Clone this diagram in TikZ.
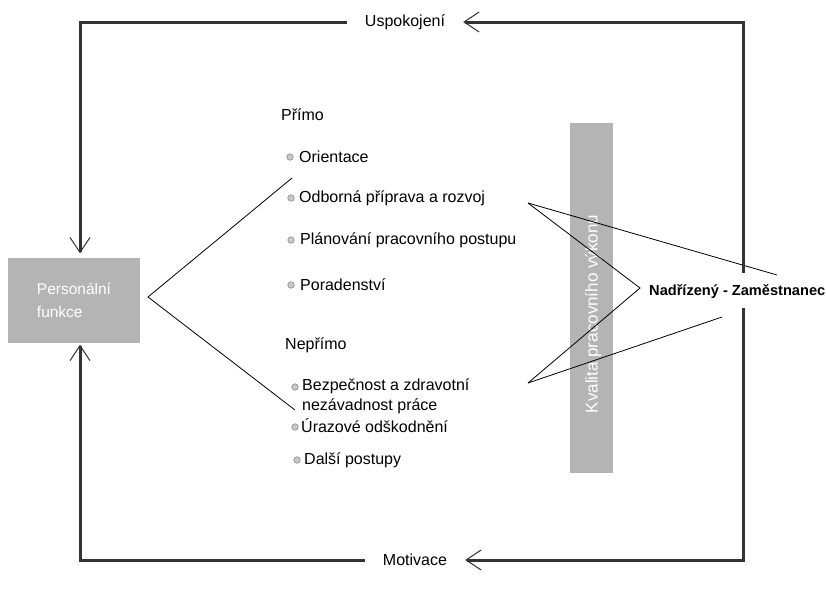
\documentclass[tikz,border=0pt]{standalone}
\usepackage{fontspec}
\setmainfont{Liberation Sans}
\usetikzlibrary{arrows.meta,calc}
\definecolor{loopgray}{HTML}{333333}
\definecolor{panelgray}{HTML}{B4B4B4}
\definecolor{dotfill}{HTML}{C8C8C8}
\definecolor{dotring}{HTML}{8C8C8C}
\tikzset{
  openbarb/.tip={Straight Barb[length=15pt,width=20pt,line width=1pt]},
  loopline/.style={line width=3pt, draw=loopgray, line join=miter},
  thinline/.style={line width=0.8pt, draw=black},
  txt/.style={font=\fontsize{16}{20}\selectfont, inner sep=0pt, anchor=west},
  looplabel/.style={font=\fontsize{16}{19}\selectfont, inner ysep=0pt, inner xsep=18pt},
  panel/.style={fill=panelgray, text=white, inner sep=0pt, align=left,
                font=\fontsize{15.5}{23}\selectfont},
  dot/.style={circle, fill=dotfill, draw=dotring, line width=0.6pt,
              inner sep=0pt, minimum size=6.5pt},
}
\begin{document}
\begin{tikzpicture}[x=1pt,y=-1pt]
\useasboundingbox (0,0) rectangle (826,592);

% central box and the quality bar
\node[panel, minimum width=132pt, minimum height=85pt] (pf) at (74,300) {Personální\\funkce};
\node[fill=panelgray, minimum width=43pt, minimum height=350pt, inner sep=0pt] (kvbar) at (591.5,298) {};
\node[font=\fontsize{17}{19}\selectfont, text=white, rotate=90, inner sep=0pt] (kvtext) at (593,314) {Kvalita pracovního výkonu};

% loop labels
\node[looplabel] (usp) at (405,22) {Uspokojení};
\node[looplabel] (mot) at (415,560) {Motivace};
\node[txt, font=\bfseries\fontsize{14.6}{19}\selectfont] (nz) at (649,292) {Nadřízený - Zaměstnanec};

% corners of the loop
\coordinate (tl) at (80,22);
\coordinate (tr) at (743,22);
\coordinate (bl) at (80,560);
\coordinate (br) at (743,560);
\coordinate (nzup) at (743,273);
\coordinate (nzdown) at (743,308);

% direct functions
\node[txt] (primo) at (281,115) {Přímo};
\node[dot] (b1) at (290,157) {};
\node[txt] (i1) at (299,157) {Orientace};
\node[dot] (b2) at (291,198) {};
\node[txt] (i2) at (299,198) {Odborná příprava a rozvoj};
\node[dot] (b3) at (291,240) {};
\node[txt] (i3) at (300,240) {Plánování pracovního postupu};
\node[dot] (b4) at (291,285) {};
\node[txt] (i4) at (300,285) {Poradenství};

% indirect functions
\node[txt] (neprimo) at (285,345) {Nepřímo};
\node[dot] (c1) at (295,387) {};
\node[txt, align=left] (j1) at (302,396) {Bezpečnost a zdravotní\\nezávadnost práce};
\node[dot] (c2) at (295,427) {};
\node[txt] (j2) at (301,426) {Úrazové odškodnění};
\node[dot] (c3) at (297,460) {};
\node[txt] (j3) at (304,460) {Další postupy};

% fan-out lines
\coordinate (apexL) at (148,297);
\coordinate (upL) at (292,178);
\coordinate (loL) at (295,410);
\draw[thinline] (upL) -- (apexL) -- (loL);

\coordinate (srcA) at (528,203);
\coordinate (srcB) at (528,383);
\coordinate (apexR) at (640,288);
\coordinate (endA) at (777,275);
\coordinate (endB) at (722,317);
\draw[thinline] (srcA) -- (apexR) -- (srcB);
\draw[thinline] (srcA) -- (endA);
\draw[thinline] (srcB) -- (endB);

% feedback loop
\draw[loopline, -openbarb] (nzup) -- (tr) -- (usp.east);
\draw[loopline, -openbarb, shorten >=4pt] (usp.west) -- (tl) -- (tl |- pf.north);
\draw[loopline, -openbarb] (nzdown) -- (br) -- (mot.east);
\draw[loopline, -openbarb, shorten >=2pt] (mot.west) -- (bl) -- (bl |- pf.south);
\end{tikzpicture}
\end{document}
